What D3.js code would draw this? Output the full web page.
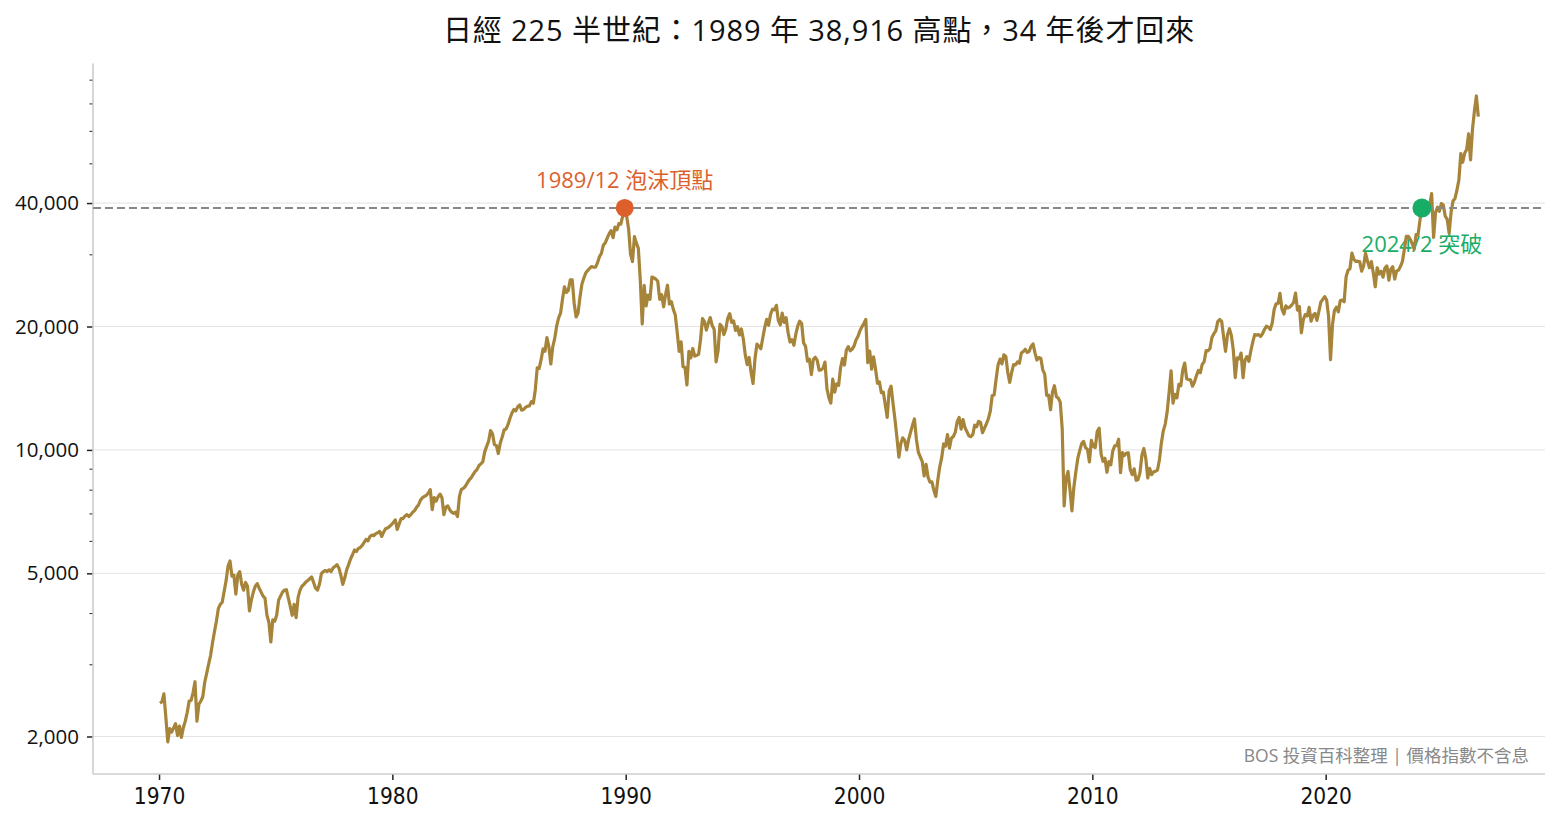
<!DOCTYPE html>
<html><head><meta charset="utf-8">
<script src="https://cdn.jsdelivr.net/npm/d3@7"></script>
<style>body{margin:0;background:#fff}</style>
</head><body>
<svg id="c" width="1560" height="824"></svg>
<script>
// Nikkei 225 monthly values, Jan 1970 onward
const startYear = 1970;
const close1970s = [
  2410,2430,2540,2230,1940,2090,2050,2100,2150,2010,2120,1990,
  2100,2180,2290,2440,2450,2560,2720,2180,2400,2440,2500,2710,
  2850,3000,3150,3380,3600,3820,4100,4200,4250,4520,4800,5210,
  5360,4920,4950,4450,4950,5050,4700,4550,4750,4650,4050,4310,
  4500,4650,4720,4600,4500,4400,4350,3950,3800,3400,3850,3820,
  3950,4300,4400,4500,4550,4560,4350,4150,3950,4200,3900,4360,
  4550,4650,4700,4760,4800,4850,4900,4750,4600,4550,4700,4990,
  5050,5080,5050,5100,5050,5150,5200,5250,5150,4950,4700,4870,
  5100,5250,5420,5550,5700,5650,5750,5780,5850,5950,6050,6000,
  6150,6200,6180,6250,6280,6330,6150,6300,6420,6450,6500,6570
];
const close1980s = [
  6650,6750,6400,6600,6800,6800,6900,6950,6880,6950,7050,7120,
  7250,7350,7550,7650,7700,7750,7850,8000,7150,7650,7500,7680,
  7800,7650,6950,7250,7300,7150,7050,7000,7050,6880,7700,8020,
  8050,8150,8300,8450,8550,8700,8850,8950,9150,9250,9350,9890,
  10200,10500,11150,10950,10300,10250,9800,10400,10750,11200,11250,11540,
  11950,12300,12550,12450,12750,12880,12500,12550,12700,12780,12800,13110,
  13000,14000,15850,15800,16600,17650,17400,18800,17850,16200,17850,18700,
  20050,21000,21550,23300,25000,24200,24500,26000,26000,22800,21100,21560,
  23600,25400,26250,27050,27400,27750,28000,27900,27920,28600,29580,30160,
  31580,31980,32840,33710,34270,32950,34950,34430,35640,35550,37270,38916
];
const close1990s = [
  37190,34590,29980,28800,33130,31940,31040,25980,20300,25190,22450,23850,
  23290,26410,26290,26110,25790,23290,23910,22340,23920,25220,22690,22980,
  22020,21340,19350,17390,18350,15950,15910,14400,17400,16770,17680,16930,
  17020,17100,18590,20920,20550,19590,20380,21030,20110,19700,16400,17420,
  20230,20000,19110,19730,20970,21500,20460,20630,19560,19990,19080,19720,
  18650,17050,16140,16810,15440,14520,16680,18120,17910,17650,18740,19870,
  20810,20130,21410,22040,21960,22530,20690,20170,21560,20470,21020,19360,
  18330,18560,18000,19150,20070,20600,20330,18230,17890,16460,16640,15260,
  16630,16830,16530,15640,15670,15830,16380,14110,13410,13000,14880,13840,
  14500,14370,15840,16700,16110,17530,17860,17440,17610,17940,18560,18930
];
const close2000s = [
  19540,19960,20340,20800,16330,17410,15730,16860,15750,14540,14650,13790,
  13840,12880,12000,13930,14300,12970,11860,10710,9600,10370,10700,10540,
  10000,10590,11030,11490,11900,10620,9880,9620,9380,8640,9220,8580,
  8340,8360,7970,7700,8430,9080,9560,10340,10220,10900,10100,10680,
  10780,11040,11720,12000,11240,11860,11330,11080,10820,10770,10900,11490,
  11390,11740,11670,11010,11280,11580,11900,12410,13570,13610,14870,16110,
  16650,16210,17060,16910,15470,14600,15460,16140,16130,16400,16270,17230,
  17380,17600,17290,17400,17880,18140,17250,16570,16790,16740,15680,15310,
  13590,13600,12530,13850,14340,13480,13380,13070,11260,7300,8510,8860,
  7990,7100,8110,8830,9520,9960,10360,10490,10130,10030,9350,10550
];
const close2010s = [
  10200,10130,11090,11300,9770,9380,9540,8820,9370,9200,9940,10230,
  10240,10620,8800,9850,9690,9820,9830,8960,8700,8990,8430,8460,
  8800,9720,10080,9520,8540,9010,8700,8840,8870,8930,9450,10400,
  11140,11560,12400,13860,15600,13000,13670,13390,14460,14330,15660,16290,
  14910,14840,14830,14300,14630,15160,15620,15420,16170,16410,17460,17450,
  17670,18800,19210,19520,20560,20800,20590,18890,17390,19080,19750,19030,
  17520,15000,16760,16670,17230,15000,16570,16890,16450,17430,18310,19110,
  19040,19120,18910,19200,19650,20030,19930,19650,20360,22010,22720,22760,
  24100,22070,21450,22470,22200,22300,22550,22870,24120,21920,22350,19300,
  20770,21390,21210,22260,20600,21280,21520,20700,21760,22930,23290,23660
];
const close2020s = [
  23210,21140,16600,20190,21880,22290,21710,23140,23190,22980,26430,27440,
  27660,30200,29180,28810,28860,28790,27280,28090,30200,28890,27820,28790,
  27000,25000,27820,26850,27280,26390,27800,28090,25940,27590,27970,26100,
  27330,27450,28040,28860,30890,33190,33170,32620,31860,30860,33490,33460,
  36290,39170,40370,38410,38490,39580,42200,33000,37920,39080,38210,39900,
  39570,37160,36500,33800,37970,40490,41000,43000,45500,52800,50300,53000,
  54000,59000,51000,60500,67000,73000,65000
];

const yMajorTicks = [2000, 5000, 10000, 20000, 40000];
const yMinorTicks = [3000, 4000, 6000, 7000, 8000, 9000, 30000, 50000, 60000, 70000, 80000];
const xTicks = [1970, 1980, 1990, 2000, 2010, 2020];
const peakLevel = 38916;
const peakLabel = "1989/12 泡沫頂點", peakYear = 1989, peakMonth = 12;
const breakLabel = "2024/2 突破", breakYear = 2024, breakMonth = 2;
const titleText = "日經 225 半世紀：1989 年 38,916 高點，34 年後才回來";
const sourceText = "BOS 投資百科整理 | 價格指數不含息";

const values = [].concat(close1970s, close1980s, close1990s, close2000s, close2010s, close2020s);
const data = values.map((v, i) => ({t: startYear + i / 12 + 1 / 24, v}));
const monthT = (y, m) => y + (m - 1) / 12 + 1 / 24;

const svg = d3.select("#c");
const L = 93, R = 1545, T = 63.5, B = 774;
const x = d3.scaleLinear().domain([1967.17, 2029.4]).range([L, R]);
const y = d3.scaleLog().domain([1620, 87600]).range([B, T]);

const latin = "'Open Sans','Noto Sans CJK TC',sans-serif";
const cjk = "'Open Sans','Noto Sans CJK TC',sans-serif";

// grid
svg.append("g").selectAll("line").data(yMajorTicks).join("line")
  .attr("x1", L).attr("x2", R).attr("y1", d => y(d)).attr("y2", d => y(d))
  .attr("stroke", "#e3e3e3").attr("stroke-width", 1);

// y axis
const yAxis = svg.append("g").attr("transform", `translate(${L},0)`)
  .call(d3.axisLeft(y).tickValues(yMajorTicks).tickFormat(d3.format(",")).tickSize(6).tickPadding(8));
yAxis.select(".domain").remove();
yAxis.selectAll(".tick line").attr("stroke", "#222").attr("stroke-width", 1.5);
yAxis.selectAll(".tick text").attr("font-family", latin).attr("font-size", 20.5).attr("fill", "#111");
const yMinor = svg.append("g").attr("transform", `translate(${L},0)`)
  .call(d3.axisLeft(y).tickValues(yMinorTicks).tickFormat("").tickSize(3.5));
yMinor.select(".domain").remove();
yMinor.selectAll(".tick line").attr("stroke", "#222").attr("stroke-width", 1);

// x axis
const xAxis = svg.append("g").attr("transform", `translate(0,${B})`)
  .call(d3.axisBottom(x).tickValues(xTicks).tickFormat(d3.format("d")).tickSize(6).tickPadding(8));
xAxis.select(".domain").remove();
xAxis.selectAll(".tick line").attr("stroke", "#222").attr("stroke-width", 1.5);
xAxis.selectAll(".tick text").attr("font-family", "'DejaVu Sans Condensed','DejaVu Sans',sans-serif")
  .attr("font-stretch", "condensed").attr("font-size", 22.5).attr("fill", "#111");

// spines
svg.append("line").attr("x1", L).attr("x2", L).attr("y1", T).attr("y2", B).attr("stroke", "#cccccc").attr("stroke-width", 1.6);
svg.append("line").attr("x1", L).attr("x2", R).attr("y1", B).attr("y2", B).attr("stroke", "#cccccc").attr("stroke-width", 1.6);

// breakout label (under line)
svg.append("text").attr("x", x(monthT(breakYear, breakMonth))).attr("y", y(peakLevel) + 44)
  .attr("text-anchor", "middle").attr("font-family", cjk).attr("font-size", 22).attr("fill", "#18ad66")
  .text(breakLabel);

// price line
const line = d3.line().x(d => x(d.t)).y(d => y(d.v)).curve(d3.curveLinear);
svg.append("path").datum(data).attr("d", line).attr("fill", "none")
  .attr("stroke", "#a6843a").attr("stroke-width", 3.2).attr("stroke-linejoin", "round");

// dashed peak level
svg.append("line").attr("x1", L).attr("x2", R).attr("y1", y(peakLevel)).attr("y2", y(peakLevel))
  .attr("stroke", "#888").attr("stroke-width", 2).attr("stroke-dasharray", "8,4");

// dots
svg.append("circle").attr("cx", x(monthT(peakYear, peakMonth))).attr("cy", y(peakLevel)).attr("r", 9).attr("fill", "#dc5f2c");
svg.append("circle").attr("cx", x(monthT(breakYear, breakMonth))).attr("cy", y(peakLevel)).attr("r", 9.5).attr("fill", "#18ad66");

// peak label
svg.append("text").attr("x", x(monthT(peakYear, peakMonth))).attr("y", y(peakLevel) - 20)
  .attr("text-anchor", "middle").attr("font-family", cjk).attr("font-size", 22).attr("fill", "#dc5f2c")
  .text(peakLabel);

// title
svg.append("text").attr("x", (L + R) / 2).attr("y", 41).attr("text-anchor", "middle")
  .attr("font-family", cjk).attr("font-size", 29).attr("letter-spacing", 0.9).attr("fill", "#111").text(titleText);

// source
svg.append("text").attr("x", 1529).attr("y", 762).attr("text-anchor", "end")
  .attr("font-family", cjk).attr("font-size", 17.5).attr("fill", "#888").text(sourceText);
</script>
</body></html>
